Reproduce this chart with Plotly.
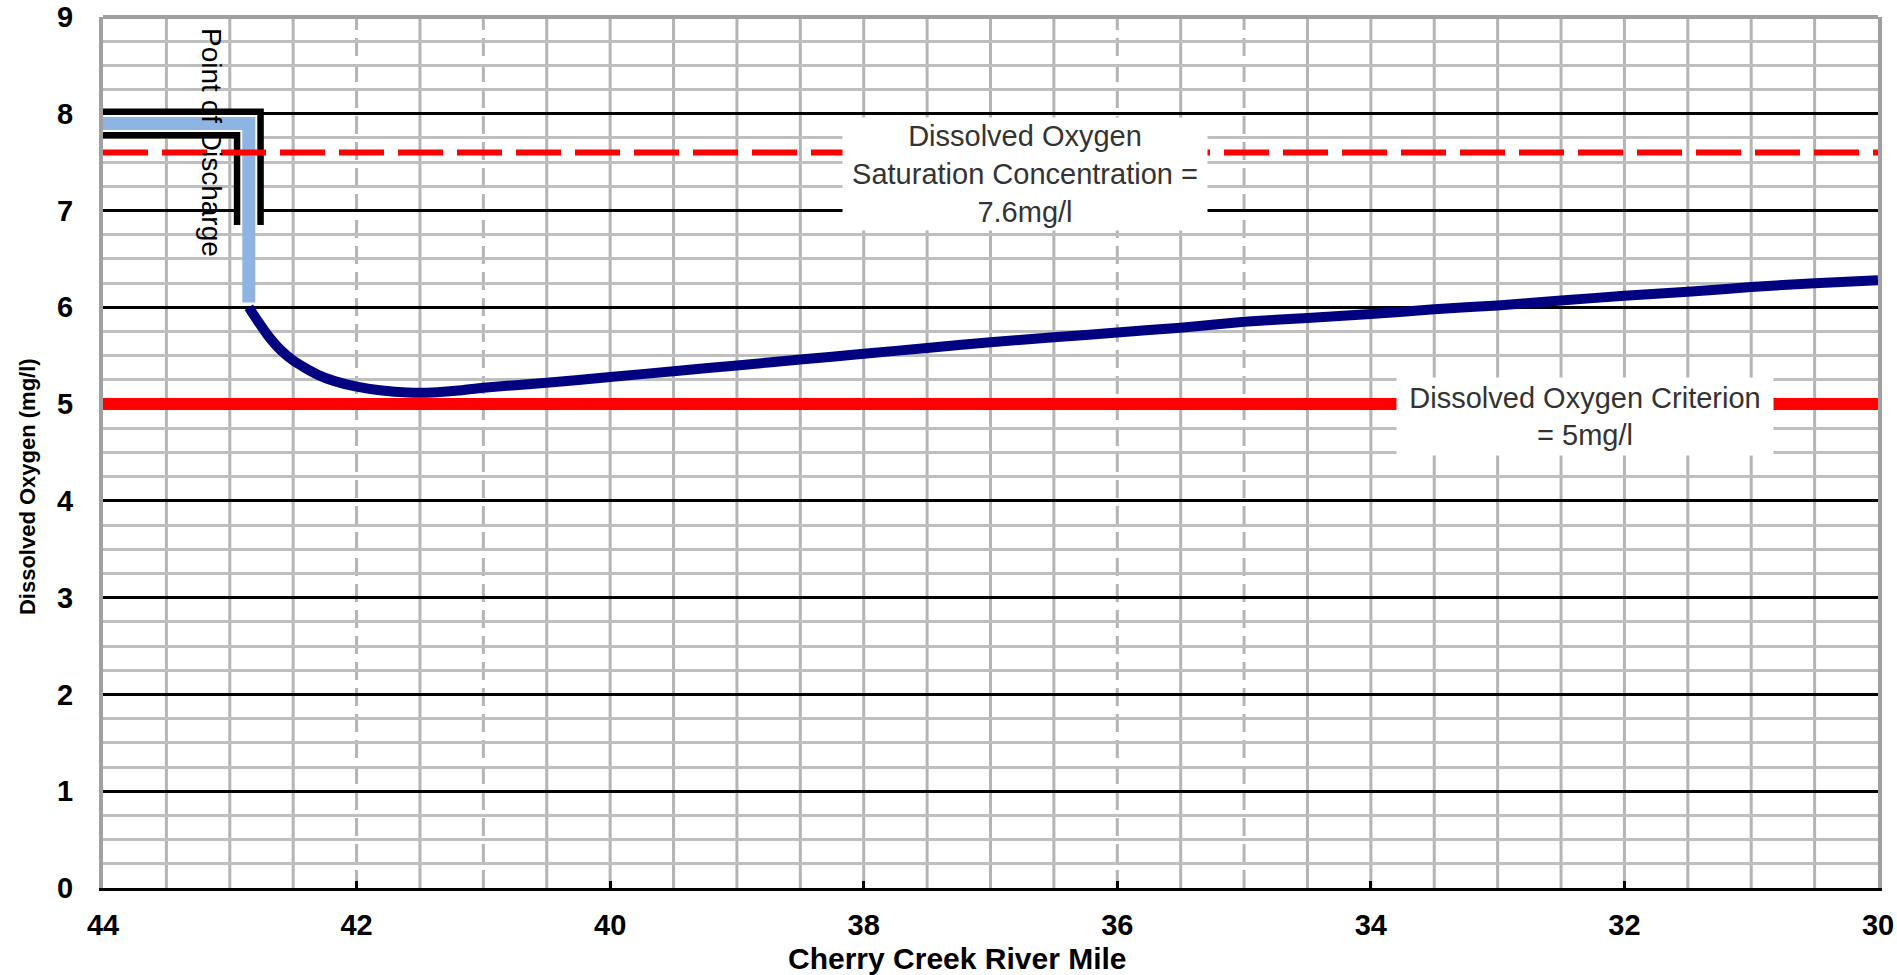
import plotly.graph_objects as go

# ---------------- data ----------------
river_mile = [42.85, 42.78, 42.7, 42.6, 42.5, 42.4, 42.3, 42.18, 42.0, 41.8, 41.6, 41.4, 41.2,
              41.0, 40.5, 40.0, 39.5, 39.0, 38.5, 38.0, 37.5, 37.0, 36.5, 36.0, 35.5,
              35.0, 34.5, 34.0, 33.5, 33.0, 32.5, 32.0, 31.5, 31.0, 30.5, 30.0]
dissolved_oxygen = [6.00, 5.86, 5.71, 5.56, 5.45, 5.37, 5.30, 5.24, 5.18, 5.14, 5.12, 5.12, 5.14,
                    5.17, 5.22, 5.28, 5.34, 5.40, 5.46, 5.52, 5.58, 5.64, 5.69, 5.74, 5.79,
                    5.85, 5.89, 5.93, 5.98, 6.02, 6.07, 6.12, 6.16, 6.21, 6.25, 6.28]

discharge_mile = [44.0, 42.85, 42.85]
discharge_do = [7.9, 7.9, 6.05]
discharge_frame_mile = [44.0, 42.85, 42.85]
discharge_frame_do = [7.9, 7.9, 6.85]

saturation_do = 7.6
criterion_do = 5.0
x_range = [44, 30]
y_range = [0, 9]
x_tick_values = [44, 42, 40, 38, 36, 34, 32, 30]
x_grid_step = 0.5
dashed_grid_miles = [42, 41, 36, 35]

FONT = "Liberation Sans, Arial, sans-serif"

fig = go.Figure()

# discharge marker (black frame, white gap, light blue core)
fig.add_trace(go.Scatter(x=discharge_frame_mile, y=discharge_frame_do, mode="lines",
                         line=dict(color="black", width=30), hoverinfo="skip", showlegend=False))
fig.add_trace(go.Scatter(x=discharge_frame_mile, y=discharge_frame_do, mode="lines",
                         line=dict(color="white", width=17), hoverinfo="skip", showlegend=False))
fig.add_trace(go.Scatter(x=discharge_mile, y=discharge_do, mode="lines",
                         line=dict(color="#8DB4E2", width=13), hoverinfo="skip", showlegend=False))

# saturation and criterion lines
fig.add_trace(go.Scatter(x=x_range, y=[saturation_do, saturation_do], mode="lines",
                         line=dict(color="#FF0000", width=6, dash="45px,14px"),
                         hoverinfo="skip", showlegend=False))
fig.add_trace(go.Scatter(x=x_range, y=[criterion_do, criterion_do], mode="lines",
                         line=dict(color="#FF0000", width=12),
                         hoverinfo="skip", showlegend=False))

# DO profile
fig.add_trace(go.Scatter(x=river_mile, y=dissolved_oxygen, mode="lines",
                         line=dict(color="#000080", width=10, shape="spline", smoothing=0.5),
                         showlegend=False))

# vertical grid lines (shapes between grid and traces)
shapes = []
n = int(round((x_range[0] - x_range[1]) / x_grid_step))
for i in range(1, n):
    xv = x_range[0] - i * x_grid_step
    dashed = any(abs(xv - d) < 1e-9 for d in dashed_grid_miles)
    shapes.append(dict(type="line", xref="x", yref="paper", x0=xv, x1=xv, y0=0, y1=1,
                       layer="between",
                       line=dict(color="#B4B4B4", width=3, dash="18px,8px" if dashed else "solid")))
# top border
shapes.append(dict(type="line", xref="paper", yref="paper", x0=0, x1=1, y0=1, y1=1,
                   layer="above", line=dict(color="#A0A0A0", width=4)))
fig.update_layout(shapes=shapes)

annotations = [
    dict(text="Point of Discharge", x=43.15, y=7.70, xref="x", yref="y", showarrow=False,
         textangle=90, font=dict(family=FONT, size=28, color="black")),
    dict(text="Dissolved Oxygen<br>Saturation Concentration =<br>7.6mg/l", x=36.73, y=7.38,
         xref="x", yref="y", showarrow=False, bgcolor="white", width=364, height=112,
         borderpad=0, font=dict(family=FONT, size=29, color="#333333")),
    dict(text="Dissolved Oxygen Criterion<br>= 5mg/l", x=32.31, y=4.876,
         xref="x", yref="y", showarrow=False, bgcolor="white", width=376, height=77,
         borderpad=0, font=dict(family=FONT, size=29, color="#333333")),
    dict(text="Cherry Creek River Mile", x=0.4814, y=-0.0815, xref="paper", yref="paper",
         showarrow=False, xanchor="center", yanchor="middle",
         font=dict(family=FONT, size=30, color="black", weight="bold")),
    dict(text="Dissolved Oxygen (mg/l)", x=-0.0422, y=0.4604, xref="paper", yref="paper",
         showarrow=False, textangle=-90, xanchor="center", yanchor="middle",
         font=dict(family=FONT, size=22, color="black", weight="bold")),
]

fig.update_layout(
    width=1897, height=975,
    margin=dict(l=103, r=19, t=17, b=87, autoexpand=False),
    paper_bgcolor="white", plot_bgcolor="white",
    annotations=annotations,
    xaxis=dict(range=x_range, tickvals=x_tick_values, showgrid=False, zeroline=False,
               automargin=False, ticklabeloverflow="allow",
               showline=True, linecolor="black", linewidth=3,
               ticks="inside", ticklen=7, tickwidth=3, tickcolor="black",
               ticklabelstandoff=9,
               tickfont=dict(family=FONT, size=29, color="black", weight="bold")),
    yaxis=dict(range=y_range, dtick=1, tick0=0, showgrid=True, gridcolor="black", gridwidth=3,
               automargin=False, ticklabeloverflow="allow",
               zeroline=False, showline=True, linecolor="#A0A0A0", linewidth=4, mirror=True,
               ticks="", ticklabelstandoff=20,
               minor=dict(dtick=0.25, showgrid=True, gridcolor="#BFBFBF", gridwidth=3),
               tickfont=dict(family=FONT, size=29, color="black", weight="bold")),
)

fig.write_html("out.html", config={"displayModeBar": False},
               post_script="document.body.style.margin='0';document.body.style.overflow='hidden';")
